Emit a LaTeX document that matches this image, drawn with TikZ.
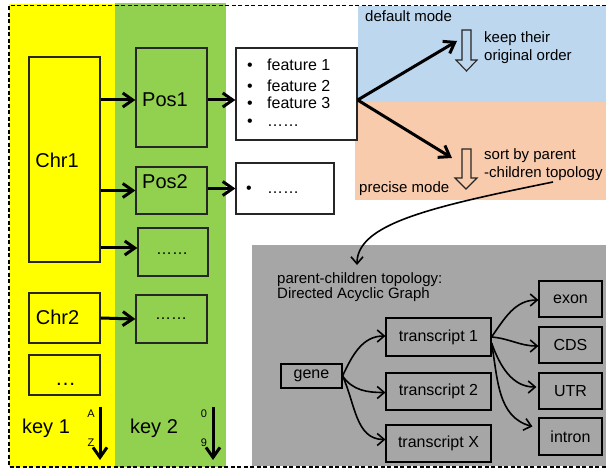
\documentclass[tikz,border=0pt]{standalone}
\usepackage{fontspec}
\setmainfont{Liberation Sans}
\usetikzlibrary{arrows.meta}
\definecolor{keyyellow}{HTML}{FFFF00}
\definecolor{keygreen}{HTML}{92D050}
\definecolor{modeblue}{HTML}{BDD7EE}
\definecolor{modepeach}{HTML}{F8CBAD}
\definecolor{dagrey}{HTML}{A6A6A6}
\definecolor{boxline}{HTML}{262626}

\begin{document}
\begin{tikzpicture}[x=1pt,y=1pt,
  box/.style={draw=boxline, line width=1.3pt, inner sep=0pt},
  fs/.style={font=\fontsize{#1}{#1}\selectfont, inner sep=0pt},
  bigarrow/.style={line width=3pt, -{Straight Barb[length=10pt,width=14pt]}},
  dagbox/.style={draw=black, fill=dagrey, line width=1.1pt, inner sep=0pt,
                 minimum width=105pt, minimum height=37pt,
                 font=\fontsize{16}{16}\selectfont},
  leafbox/.style={dagbox, minimum width=63pt, minimum height=36pt},
  dagarrow/.style={line width=1.6pt, -{Straight Barb[length=7pt,width=12pt]}},
  hollow/.style={draw=boxline, line width=1.1pt},
]
\useasboundingbox (0,0) rectangle (606,469);

% background bands
\fill[keyyellow] (9,2) rectangle (115,465);
\fill[keygreen] (115,2) rectangle (226,466);
\fill[modeblue] (358,367) rectangle (606,463);
\fill[modepeach] (355,269) rectangle (606,367);
\fill[dagrey] (252,3) rectangle (606,224);

% dashed frame
\draw[line width=1.7pt, dash pattern=on 4pt off 2.5pt] (606,463.5) -- (9,463.5) -- (9,2) -- (606,2);

% key 1 column
\node[box, minimum width=71pt, minimum height=205pt] (chr1) at (64.5,309.5) {};
\node[fs=20] (chr1txt) at (57,309) {Chr1};
\node[box, minimum width=71pt, minimum height=50pt] (chr2) at (64.5,151) {};
\node[fs=20] (chr2txt) at (57.5,152) {Chr2};
\node[box, minimum width=71pt, minimum height=40pt] (chrmore) at (64.5,94) {};
\node[fs=21, anchor=base] (chrmoretxt) at (65.5,83) {…};
\node[fs=20] (key1) at (46,41) {key 1};
\node[fs=11] (ka) at (91,55) {A};
\node[fs=11] (kz) at (91,26) {Z};
\coordinate (k1top) at (100,62);
\coordinate (k1bot) at (100,9);

% key 2 column
\node[box, minimum width=71pt, minimum height=99pt] (pos1) at (171.5,371.5) {};
\node[fs=20] (pos1txt) at (165,369) {Pos1};
\node[box, minimum width=71pt, minimum height=47pt] (pos2) at (171.5,278.5) {};
\node[fs=20] (pos2txt) at (165,287) {Pos2};
\node[box, minimum width=70pt, minimum height=48pt] (box3) at (173,217) {};
\node[fs=16, anchor=base] (box3txt) at (172,214) {……};
\node[box, minimum width=71pt, minimum height=48pt] (box4) at (171.5,150) {};
\node[fs=16, anchor=base] (box4txt) at (171,149) {……};
\node[fs=20] (key2) at (154,41) {key 2};
\node[fs=11] (k0) at (204,55) {0};
\node[fs=11] (k9) at (204,26) {9};
\coordinate (k2top) at (213,62);
\coordinate (k2bot) at (213,9);

% feature lists
\node[box, fill=white, minimum width=121pt, minimum height=92pt] (feat) at (296.5,375) {};
\node[fs=16, anchor=base] (b1) at (250,398.3) {•};
\node[fs=16, anchor=base west] (f1) at (267,398.3) {feature 1};
\node[fs=16, anchor=base] (b2) at (250,377.3) {•};
\node[fs=16, anchor=base west] (f2) at (267,377.3) {feature 2};
\node[fs=16, anchor=base] (b3) at (250,360.3) {•};
\node[fs=16, anchor=base west] (f3) at (267,360.3) {feature 3};
\node[fs=16, anchor=base] (b4) at (250,342) {•};
\node[fs=16, anchor=base west] (f4) at (267,342) {……};

\node[box, fill=white, minimum width=98pt, minimum height=51pt] (tgt) at (285,280.5) {};
\node[fs=16, anchor=base] (tb) at (249,275) {•};
\node[fs=16, anchor=base west] (tdots) at (267,275) {……};

% arrows between columns
\draw[bigarrow] (chr1.east |- pos1txt) -- (pos1.west |- pos1txt);
\draw[bigarrow] (chr1.east |- pos2.west) -- (pos2.west);
\coordinate (b3in) at ([yshift=4pt]box3.west);
\draw[bigarrow] (chr1.east |- b3in) -- (b3in);
\draw[bigarrow] (chr2.east) -- (box4.west);
\draw[bigarrow] (pos1.east |- pos1txt) -- (feat.west |- pos1txt);
\draw[bigarrow] (pos2.east |- tgt.west) -- (tgt.west);
\draw[bigarrow] (k1top) -- (k1bot);
\draw[bigarrow] (k2top) -- (k2bot);

% sorting modes
\node[fs=15, anchor=base west] (defmode) at (365,447.6) {default mode};
\node[fs=15, anchor=base west] (keep1) at (484,426.6) {keep their};
\node[fs=15, anchor=base west] (keep2) at (484,408) {original order};
\node[fs=15, anchor=base west] (sort1) at (484,309) {sort by parent};
\node[fs=15, anchor=base west] (sort2) at (484,291) {-children topology};
\node[fs=15, anchor=base west] (premode) at (359,276) {precise mode};

\draw[hollow] (462,439) -- (471,439) -- (471,409) -- (477,409) -- (466.5,398)
  -- (456,409) -- (462,409) -- cycle;
\draw[hollow] (462,320) -- (471,320) -- (471,291) -- (477,291) -- (466,280)
  -- (455,291) -- (462,291) -- cycle;

\coordinate (fork) at (feat.east |- pos1txt);
\coordinate (deftip) at (457,428);
\coordinate (pretip) at (452,311);
\draw[bigarrow] (fork) -- (deftip);
\draw[bigarrow] (fork) -- (pretip);

% link to the DAG panel
\node[fs=15, anchor=base west] (dag1) at (277,185) {parent-children topology:};
\node[fs=15, anchor=base west] (dag2) at (277,170) {Directed Acyclic Graph};
\coordinate (topostart) at (553,287);
\coordinate (topoend) at (357,204);
\draw[dagarrow] (topostart) .. controls (430,262) and (357,245) .. (topoend);

% DAG
\node[dagbox, minimum width=61pt, minimum height=24pt] (gene) at (311.5,93) {gene};
\node[dagbox, minimum height=38pt] (t1) at (438.5,132) {transcript 1};
\node[dagbox] (t2) at (438.5,77.5) {transcript 2};
\node[dagbox] (tx) at (438.5,25.5) {transcript X};
\node[leafbox] (exon) at (570.5,170) {exon};
\node[leafbox] (cds) at (570.5,124) {CDS};
\node[leafbox] (utr) at (570.5,78) {UTR};
\node[leafbox, minimum height=37pt] (intron) at (570.5,32.5) {intron};

\draw[dagarrow] (gene.east) to[out=65, in=180] ([yshift=1pt]t1.west);
\draw[dagarrow] (gene.east) to[out=-55, in=180] ([yshift=-1pt]t2.west);
\draw[dagarrow] (gene.east) to[out=-65, in=180] ([yshift=4pt]tx.west);

\coordinate (t1a) at (t1.east);
\coordinate (t1b) at ([yshift=-6pt]t1.east);
\draw[dagarrow] (t1a) to[out=55, in=180] ([yshift=-1pt]exon.west);
\draw[dagarrow] (t1a) to[out=-5, in=180] ([yshift=-1pt]cds.west);
\draw[dagarrow] (t1b) to[out=-70, in=180] ([xshift=-2pt,yshift=4pt]utr.west);
\draw[dagarrow] (t1b) to[out=-80, in=165] ([xshift=-6pt,yshift=10pt]intron.west);
\end{tikzpicture}
\end{document}
